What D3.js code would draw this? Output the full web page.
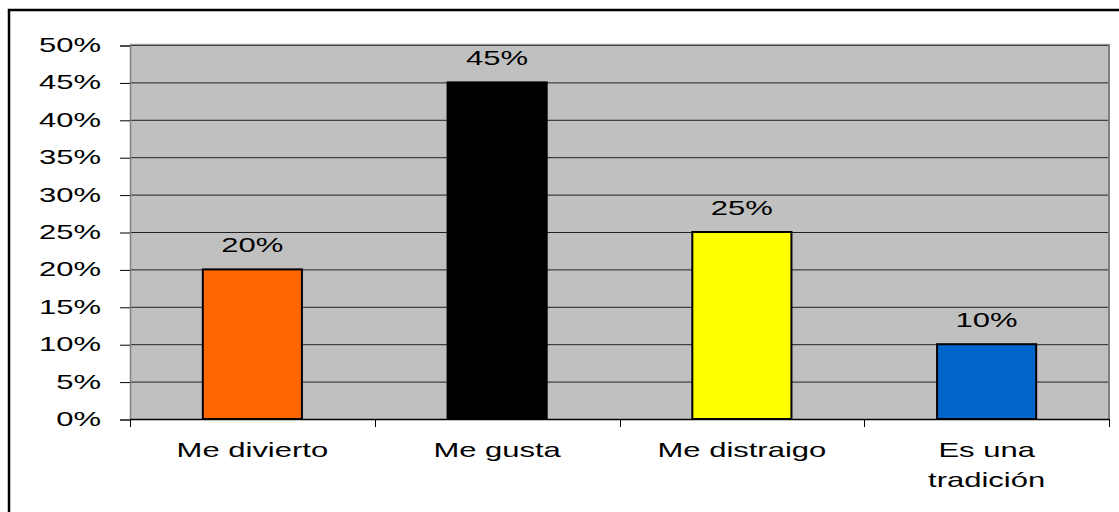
<!DOCTYPE html>
<html>
<head>
<meta charset="utf-8">
<script src="https://cdn.jsdelivr.net/npm/d3@7"></script>
<style>
    body { margin: 0; background: #fff; }
    text { font-family: "Liberation Sans", Arial, sans-serif; fill: #000; font-size: 20px; }
</style>
</head>
<body>
<div id="bar-chart"></div>
<script>
const categories = ["Me divierto", "Me gusta", "Me distraigo", "Es una tradición"];
const values = [0.20, 0.45, 0.25, 0.10];
const barColors = ["#FF6600", "#000000", "#FFFF00", "#0066CC"];
const yTicks = [0, 0.05, 0.10, 0.15, 0.20, 0.25, 0.30, 0.35, 0.40, 0.45, 0.50];

(function() {
    const width = 1119;
    const height = 512;
    const plot = { left: 130, top: 45, right: 1109, bottom: 419 };
    const stretch = 1.55; // the original text is drawn wide
    const pct = d3.format(".0%");

    const svg = d3.select("#bar-chart")
        .append("svg")
        .attr("width", width)
        .attr("height", height);

    // wide text helper
    function wideText(parent, x, y, anchor, str) {
        return parent.append("g")
            .attr("transform", `translate(${x},${y}) scale(${stretch},1)`)
            .append("text")
            .attr("text-anchor", anchor)
            .text(str);
    }

    // outer chart frame (right/bottom fall outside the picture)
    svg.append("rect")
        .attr("x", 9).attr("y", 10)
        .attr("width", 1120).attr("height", 520)
        .attr("fill", "none")
        .attr("stroke", "#000")
        .attr("stroke-width", 2.5);

    const x = d3.scaleBand()
        .domain(categories)
        .range([plot.left, plot.right])
        .paddingInner(0.595)
        .paddingOuter(0.2975);

    const y = d3.scaleLinear()
        .domain([0, 0.5])
        .range([plot.bottom, plot.top]);

    // plot background
    svg.append("rect")
        .attr("x", plot.left).attr("y", plot.top)
        .attr("width", plot.right - plot.left)
        .attr("height", plot.bottom - plot.top)
        .attr("fill", "#C0C0C0");

    // gridlines
    svg.append("g")
        .selectAll("line")
        .data(yTicks.slice(1))
        .enter()
        .append("line")
        .attr("x1", plot.left).attr("x2", plot.right)
        .attr("y1", d => y(d) + 0.5).attr("y2", d => y(d) + 0.5)
        .attr("stroke", "#222")
        .attr("stroke-width", 1);

    // plot border (gray)
    svg.append("line")
        .attr("x1", plot.left).attr("x2", plot.right)
        .attr("y1", plot.top - 0.5).attr("y2", plot.top - 0.5)
        .attr("stroke", "#999").attr("stroke-width", 1.5);
    svg.append("line")
        .attr("x1", plot.right).attr("x2", plot.right)
        .attr("y1", plot.top - 1).attr("y2", plot.bottom)
        .attr("stroke", "#808080").attr("stroke-width", 2);

    // y axis (ticks via d3 axis, labels drawn wide)
    const yAxis = d3.axisLeft(y)
        .tickValues(yTicks)
        .tickSize(10)
        .tickFormat("");

    const gy = svg.append("g")
        .attr("transform", `translate(${plot.left},0.5)`)
        .call(yAxis);
    gy.select(".domain").attr("stroke", "#808080").attr("stroke-width", 1.5);
    gy.selectAll(".tick line").attr("stroke", "#000");

    const yLabels = svg.append("g");
    yTicks.forEach(t => {
        wideText(yLabels, 101, y(t) + 7, "end", pct(t));
    });

    // bars
    svg.append("g")
        .selectAll("rect")
        .data(values)
        .enter()
        .append("rect")
        .attr("x", (d, i) => x(categories[i]))
        .attr("y", d => y(d))
        .attr("width", x.bandwidth())
        .attr("height", d => y(0) - y(d))
        .attr("fill", (d, i) => barColors[i])
        .attr("stroke", "#000")
        .attr("stroke-width", 2);

    // x axis line and category ticks
    svg.append("line")
        .attr("x1", plot.left).attr("x2", plot.right)
        .attr("y1", plot.bottom + 0.5).attr("y2", plot.bottom + 0.5)
        .attr("stroke", "#000").attr("stroke-width", 1.5);

    const step = x.step();
    const tickXs = d3.range(categories.length + 1).map(i => plot.left + i * step);
    svg.append("g")
        .selectAll("line")
        .data(tickXs)
        .enter()
        .append("line")
        .attr("x1", d => Math.round(d) + 0.5).attr("x2", d => Math.round(d) + 0.5)
        .attr("y1", plot.bottom).attr("y2", plot.bottom + 8)
        .attr("stroke", "#000");

    // category labels (wrap the long one)
    const catG = svg.append("g");
    categories.forEach(c => {
        const lines = c === "Es una tradición" ? ["Es una", "tradición"] : [c];
        const cx = x(c) + x.bandwidth() / 2;
        lines.forEach((ln, j) => wideText(catG, cx, 457 + j * 30, "middle", ln));
    });

    // value labels
    const valG = svg.append("g");
    values.forEach((v, i) => {
        wideText(valG, x(categories[i]) + x.bandwidth() / 2, y(v) - 17, "middle", pct(v));
    });
})();
</script>
</body>
</html>
